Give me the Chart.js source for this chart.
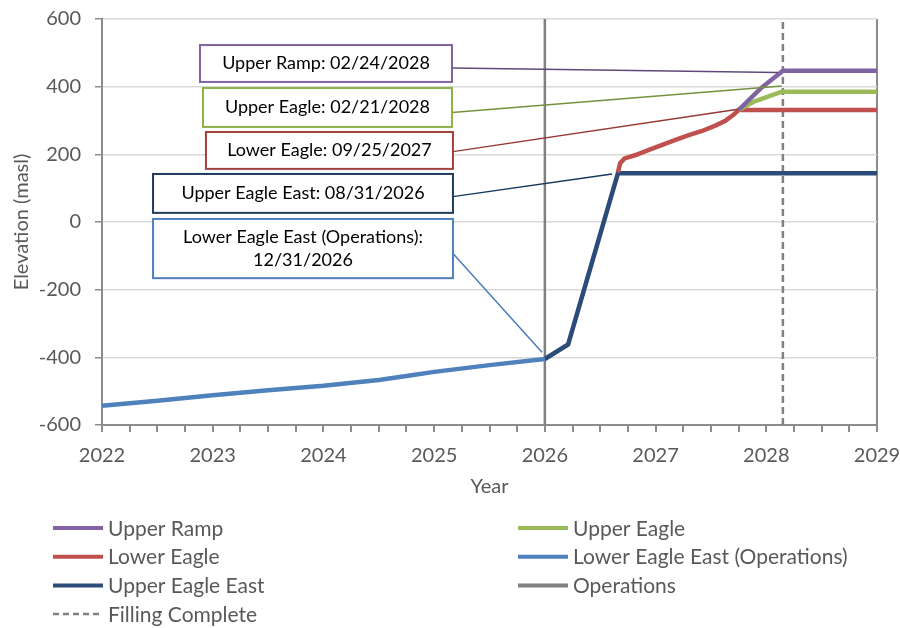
<!DOCTYPE html>
<html>
<head>
<meta charset="utf-8">
<title>Elevation by year</title>
<script src="https://cdn.jsdelivr.net/npm/chart.js@4.4.1/dist/chart.umd.min.js"></script>
<style>
  html, body { margin: 0; padding: 0; background: #fff; }
  #wrap { width: 900px; height: 628px; }
</style>
</head>
<body>
<div id="wrap"><canvas id="chart" width="900" height="628"></canvas></div>
<script>
// series: decimal year -> elevation (masl)
const lowerEagleEastYears = [2022.0, 2022.5, 2023.0, 2023.5, 2024.0, 2024.5, 2024.75, 2025.0, 2025.5, 2026.0];
const lowerEagleEastElev  = [-543, -528, -512, -497, -484, -467, -455, -443, -423, -405];

const upperEagleEastYears = [2026.0, 2026.21, 2026.66, 2029.0];
const upperEagleEastElev  = [-405, -362, 144, 144];

const lowerEagleYears = [2026.66, 2026.68, 2026.72, 2026.82, 2026.94, 2027.06, 2027.18, 2027.3, 2027.42, 2027.54, 2027.63, 2027.7, 2027.75, 2029.0];
const lowerEagleElev  = [146, 174, 188, 198, 213, 228, 243, 257, 269, 285, 299, 316, 331, 331];

const upperEagleYears = [2027.75, 2027.89, 2028.14, 2029.0];
const upperEagleElev  = [331, 356, 385, 385];

const upperRampYears = [2027.75, 2027.95, 2028.15, 2029.0];
const upperRampElev  = [331, 395, 447, 447];

const operationsYear = 2026.0;
const fillingCompleteYear = 2028.15;

const yearLabels = [2022, 2023, 2024, 2025, 2026, 2027, 2028, 2029];
const elevLabels = [-600, -400, -200, 0, 200, 400, 600];

// callout texts and the point each leader line goes to (year, masl)
const calloutTexts = [
  ["Upper Ramp: 02/24/2028"],
  ["Upper Eagle: 02/21/2028"],
  ["Lower Eagle: 09/25/2027"],
  ["Upper Eagle East: 08/31/2026"],
  ["Lower Eagle East (Operations):", "12/31/2026"]
];
const calloutTargets = [[2028.106, 442], [2028.14, 402], [2027.745, 333], [2026.607, 142], [2025.974, -385]];

// box placement in data units: [yearLeft, yearRight, elevTop, elevBottom, leaderStartElev]
const calloutBoxes = [
  [2022.885, 2025.161, 523, 414, 455],
  [2022.912, 2025.161, 396, 281, 324],
  [2022.939, 2025.170, 266, 157, 208],
  [2022.461, 2025.170, 142, 27, 75],
  [2022.461, 2025.170, 9, -166, -93]
];
const calloutBorder = ["#7f63a1", "#8db049", "#a5403d", "#1f3b5e", "#4f81bd"];
const calloutLeader = ["#5f497a", "#76923c", "#953735", "#17375e", "#4a7ebb"];

const toPts = (xs, ys) => xs.map((x, i) => ({ x: x, y: ys[i] }));
const FONT = "Lato, 'Open Sans', sans-serif";

function series(label, xs, ys, color, width, dash) {
  return {
    label,
    data: toPts(xs, ys),
    borderColor: color,
    backgroundColor: color,
    borderWidth: width,
    borderDash: dash || [],
    pointRadius: 0,
    tension: 0,
    fill: false
  };
}

const calloutPlugin = {
  id: "callouts",
  afterDatasetsDraw(chart) {
    const { ctx, scales: { x, y } } = chart;
    ctx.save();
    calloutBoxes.forEach((b, i) => {
      const left = x.getPixelForValue(b[0]), right = x.getPixelForValue(b[1]);
      const top = y.getPixelForValue(b[2]), bottom = y.getPixelForValue(b[3]);
      // leader line
      ctx.beginPath();
      ctx.strokeStyle = calloutLeader[i];
      ctx.lineWidth = 1.5;
      ctx.moveTo(right, y.getPixelForValue(b[4]));
      ctx.lineTo(x.getPixelForValue(calloutTargets[i][0]), y.getPixelForValue(calloutTargets[i][1]));
      ctx.stroke();
      // box
      ctx.fillStyle = "#fff";
      ctx.fillRect(left, top, right - left, bottom - top);
      ctx.strokeStyle = calloutBorder[i];
      ctx.lineWidth = 2;
      ctx.strokeRect(left, top, right - left, bottom - top);
      // text
      ctx.fillStyle = "#000";
      ctx.font = "18px " + FONT;
      ctx.textAlign = "center";
      ctx.textBaseline = "middle";
      const lines = calloutTexts[i];
      const lh = 23;
      const cy = (top + bottom) / 2 - (lines.length - 1) * lh / 2;
      lines.forEach((t, k) => ctx.fillText(t, (left + right) / 2, cy + k * lh));
    });
    ctx.restore();
  }
};

const legendPlugin = {
  id: "twoColLegend",
  afterDraw(chart) {
    const ctx = chart.ctx;
    ctx.save();
    chart.data.datasets.forEach((ds, i) => {
      const col = i % 2, row = Math.floor(i / 2);
      const x0 = col ? 518 : 53;
      const yc = 528 + row * 28.7;
      ctx.beginPath();
      ctx.strokeStyle = ds.borderColor;
      ctx.lineWidth = ds.borderDash.length ? 2.5 : 4;
      ctx.setLineDash(ds.borderDash.length ? [6, 4] : []);
      ctx.moveTo(x0, yc);
      ctx.lineTo(x0 + 50, yc);
      ctx.stroke();
      ctx.setLineDash([]);
      ctx.fillStyle = "#595959";
      ctx.font = "21px " + FONT;
      ctx.textAlign = "left";
      ctx.textBaseline = "middle";
      ctx.fillText(ds.label, x0 + 55, yc + 1);
    });
    ctx.restore();
  }
};

new Chart(document.getElementById("chart"), {
  type: "line",
  data: {
    datasets: [
      series("Upper Ramp", upperRampYears, upperRampElev, "#8064a2", 4.5),
      series("Upper Eagle", upperEagleYears, upperEagleElev, "#9bbb59", 4.5),
      series("Lower Eagle", lowerEagleYears, lowerEagleElev, "#c0504d", 4.5),
      series("Lower Eagle East (Operations)", lowerEagleEastYears, lowerEagleEastElev, "#4f81bd", 4.5),
      series("Upper Eagle East", upperEagleEastYears, upperEagleEastElev, "#2b4b78", 4.5),
      series("Operations", [operationsYear, operationsYear], [elevLabels[0], elevLabels[elevLabels.length - 1]], "#808080", 2.5),
      series("Filling Complete", [fillingCompleteYear, fillingCompleteYear], [elevLabels[0], elevLabels[elevLabels.length - 1]], "#808080", 2.5, [7, 4])
    ]
  },
  options: {
    responsive: false,
    animation: false,
    devicePixelRatio: 1,
    layout: { padding: { top: 19, right: 23, bottom: 128, left: 0 } },
    plugins: {
      legend: { display: false },
      tooltip: { enabled: false }
    },
    scales: {
      x: {
        type: "linear",
        min: yearLabels[0],
        max: yearLabels[yearLabels.length - 1],
        afterFit: s => { s.height = 75; s.paddingLeft = 0; s.paddingRight = 0; },
        ticks: {
          stepSize: 0.25,
          autoSkip: false,
          maxRotation: 0,
          padding: 12,
          color: "#595959",
          font: { family: FONT, size: 20 },
          callback: v => (yearLabels.includes(v) ? String(v) : "")
        },
        grid: {
          drawOnChartArea: true,
          color: c => (c.tick && c.tick.value === yearLabels[yearLabels.length - 1] ? "#8c8c8c" : "rgba(0,0,0,0)"),
          lineWidth: 2,
          tickColor: "#8c8c8c",
          tickLength: 7
        },
        border: { color: "#8c8c8c", width: 2 },
        title: {
          display: true,
          text: "Year",
          color: "#595959",
          font: { family: FONT, size: 20 },
          padding: { top: 0, bottom: 1 }
        }
      },
      y: {
        min: elevLabels[0],
        max: elevLabels[elevLabels.length - 1],
        afterFit: s => { s.width = 102; s.paddingTop = 0; s.paddingBottom = 0; },
        ticks: {
          stepSize: 200,
          padding: 14,
          color: "#595959",
          font: { family: FONT, size: 20 }
        },
        grid: {
          color: "#d9d9d9",
          lineWidth: 1.5,
          tickColor: "#8c8c8c",
          tickLength: 7
        },
        border: { color: "#8c8c8c", width: 2 },
        title: {
          display: true,
          text: "Elevation (masl)",
          color: "#595959",
          font: { family: FONT, size: 20 },
          padding: { top: 10, bottom: 0 }
        }
      }
    }
  },
  plugins: [calloutPlugin, legendPlugin]
});
</script>
</body>
</html>
